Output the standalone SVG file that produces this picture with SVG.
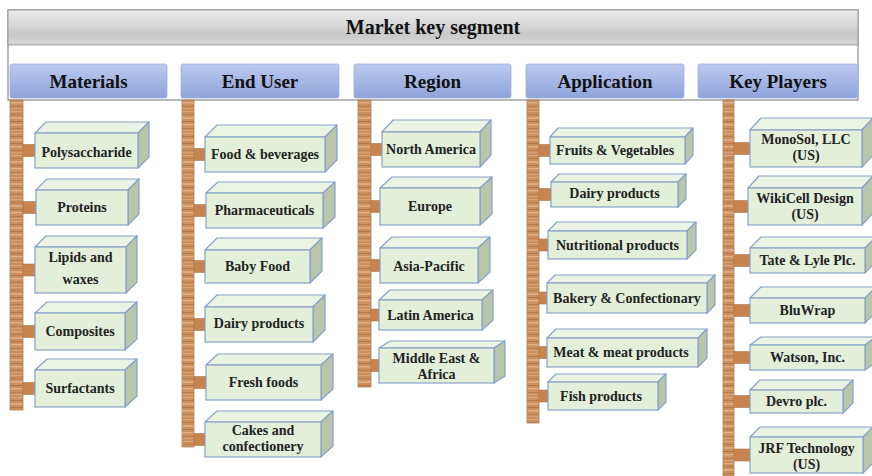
<svg xmlns="http://www.w3.org/2000/svg" width="872" height="476" viewBox="0 0 872 476">
  <defs>
    <linearGradient id="gTitle" x1="0" y1="0" x2="0" y2="1">
      <stop offset="0" stop-color="#ececec"/>
      <stop offset="0.7" stop-color="#c9c9c9"/>
      <stop offset="1" stop-color="#d6d6d6"/>
    </linearGradient>
    <linearGradient id="gHead" x1="0" y1="0" x2="0" y2="1">
      <stop offset="0" stop-color="#bccaf0"/>
      <stop offset="1" stop-color="#8ea3da"/>
    </linearGradient>
    <pattern id="wood" width="20" height="22" patternUnits="userSpaceOnUse">
      <rect width="20" height="22" fill="#cc8f5e"/>
      <rect y="1" width="20" height="1" fill="#dba67a"/>
      <rect y="4" width="20" height="1" fill="#b97b4c"/>
      <rect y="7" width="20" height="2" fill="#dcaa7e"/>
      <rect y="11" width="20" height="1" fill="#b57647"/>
      <rect y="14" width="20" height="1.5" fill="#e0b088"/>
      <rect y="18" width="20" height="1" fill="#bb7e4f"/>
      <rect y="20" width="20" height="1" fill="#d8a175"/>
    </pattern>
    <style>
      .title { font-family: "Liberation Serif", "Times New Roman", serif; font-weight: bold; font-size: 20px; fill: #111; text-anchor: middle; }
      .head { font-family: "Liberation Serif", "Times New Roman", serif; font-weight: bold; font-size: 19px; fill: #111; text-anchor: middle; }
      .lbl { font-family: "Liberation Serif", "Times New Roman", serif; font-weight: bold; font-size: 14px; fill: #222; text-anchor: middle; }
      .hbox { fill: url(#gHead); stroke: #9fb0dc; stroke-width: 0.8; }
      .pillar { fill: url(#wood); stroke: #b08058; stroke-width: 0.8; }
      .stub { fill: #c8834f; stroke: #a87850; stroke-width: 0.6; }
      .front { fill: #e3efd9; stroke: #86a2c8; stroke-width: 1.2; }
      .top { fill: #ebf3e4; stroke: #86a2c8; stroke-width: 1.2; stroke-linejoin: round; }
      .side { fill: #b9c6ab; stroke: #86a2c8; stroke-width: 1.2; stroke-linejoin: round; }
    </style>
  </defs>

  <rect width="872" height="476" fill="#ffffff"/>

  <!-- title frame and banner -->
  <g id="title">
    <rect x="8" y="10" width="850" height="90" fill="#ffffff" stroke="#8a8a8a" stroke-width="1.2"/>
    <rect x="8" y="10" width="850" height="35" fill="url(#gTitle)" stroke="#8a8a8a" stroke-width="0.8"/>
    <text class="title" x="433" y="34">Market key segment</text>
  </g>

  <!-- category headers -->
  <g id="head-materials"><rect class="hbox" x="10" y="64" width="157" height="34" rx="2"/><text class="head" x="88.5" y="88">Materials</text></g>
  <g id="head-enduser"><rect class="hbox" x="181" y="64" width="158" height="34" rx="2"/><text class="head" x="260" y="88">End User</text></g>
  <g id="head-region"><rect class="hbox" x="354" y="64" width="157" height="34" rx="2"/><text class="head" x="432.5" y="88">Region</text></g>
  <g id="head-application"><rect class="hbox" x="526" y="64" width="158" height="34" rx="2"/><text class="head" x="605" y="88">Application</text></g>
  <g id="head-keyplayers"><rect class="hbox" x="698" y="64" width="160" height="34" rx="2"/><text class="head" x="778" y="88">Key Players</text></g>

  <!-- connectors: wooden pillars and stubs -->
  <g id="connectors">
    <rect class="pillar" x="10" y="100" width="13" height="310"/>
    <rect class="pillar" x="182" y="100" width="12" height="347"/>
    <rect class="pillar" x="358" y="100" width="13" height="287"/>
    <rect class="pillar" x="527" y="100" width="12" height="323"/>
    <rect class="pillar" x="723" y="100" width="11" height="376"/>

    <rect class="stub" x="23" y="144.5" width="12" height="12"/>
    <rect class="stub" x="23" y="201.5" width="13" height="12"/>
    <rect class="stub" x="23" y="264" width="12" height="12"/>
    <rect class="stub" x="23" y="325.5" width="12" height="12"/>
    <rect class="stub" x="23" y="382.5" width="12" height="12"/>

    <rect class="stub" x="194" y="148.5" width="11" height="12"/>
    <rect class="stub" x="194" y="204.5" width="12" height="12"/>
    <rect class="stub" x="194" y="260.5" width="11" height="12"/>
    <rect class="stub" x="194" y="318.5" width="11" height="12"/>
    <rect class="stub" x="194" y="376.5" width="12" height="12"/>
    <rect class="stub" x="194" y="433.5" width="11" height="12"/>

    <rect class="stub" x="371" y="143.5" width="11" height="12"/>
    <rect class="stub" x="371" y="200.5" width="9" height="12"/>
    <rect class="stub" x="371" y="259.5" width="9" height="12"/>
    <rect class="stub" x="371" y="309" width="8" height="12"/>
    <rect class="stub" x="371" y="359.5" width="8" height="12"/>

    <rect class="stub" x="539" y="144.5" width="11" height="12"/>
    <rect class="stub" x="539" y="188.5" width="12" height="12"/>
    <rect class="stub" x="539" y="239" width="9" height="12"/>
    <rect class="stub" x="539" y="292" width="8" height="12"/>
    <rect class="stub" x="539" y="346.5" width="8" height="12"/>
    <rect class="stub" x="539" y="390" width="9" height="12"/>

    <rect class="stub" x="734" y="142.5" width="16" height="12"/>
    <rect class="stub" x="734" y="200.5" width="14" height="12"/>
    <rect class="stub" x="734" y="254.5" width="16" height="12"/>
    <rect class="stub" x="734" y="304.5" width="16" height="12"/>
    <rect class="stub" x="734" y="351.5" width="16" height="12"/>
    <rect class="stub" x="734" y="395.5" width="16" height="12"/>
    <rect class="stub" x="734" y="449" width="16" height="12"/>
  </g>

  <!-- Materials -->
  <g id="polysaccharide">
    <polygon class="top" points="35,133 46,122 149,122 138,133"/>
    <polygon class="side" points="138,133 149,122 149,157 138,168"/>
    <rect class="front" x="35" y="133" width="103" height="35"/>
    <text class="lbl" x="86.5" y="157">Polysaccharide</text>
  </g>
  <g id="proteins">
    <polygon class="top" points="36,190 47,179 139,179 128,190"/>
    <polygon class="side" points="128,190 139,179 139,214 128,225"/>
    <rect class="front" x="36" y="190" width="92" height="35"/>
    <text class="lbl" x="82" y="212">Proteins</text>
  </g>
  <g id="lipids">
    <polygon class="top" points="35,247 46,236 137,236 126,247"/>
    <polygon class="side" points="126,247 137,236 137,282 126,293"/>
    <rect class="front" x="35" y="247" width="91" height="46"/>
    <text class="lbl" x="80.5" y="262">Lipids and</text>
    <text class="lbl" x="80.5" y="284">waxes</text>
  </g>
  <g id="composites">
    <polygon class="top" points="35,313 47,302 137,302 125,313"/>
    <polygon class="side" points="125,313 137,302 137,339 125,350"/>
    <rect class="front" x="35" y="313" width="90" height="37"/>
    <text class="lbl" x="80" y="336">Composites</text>
  </g>
  <g id="surfactants">
    <polygon class="top" points="35,370 47,359 137,359 125,370"/>
    <polygon class="side" points="125,370 137,359 137,396 125,407"/>
    <rect class="front" x="35" y="370" width="90" height="37"/>
    <text class="lbl" x="80" y="393">Surfactants</text>
  </g>

  <!-- End User -->
  <g id="food-beverages">
    <polygon class="top" points="205,137 217,125 337,125 325,137"/>
    <polygon class="side" points="325,137 337,125 337,160 325,172"/>
    <rect class="front" x="205" y="137" width="120" height="35"/>
    <text class="lbl" x="265" y="159">Food &amp; beverages</text>
  </g>
  <g id="pharmaceuticals">
    <polygon class="top" points="206,193 218,182 335,182 323,193"/>
    <polygon class="side" points="323,193 335,182 335,217 323,228"/>
    <rect class="front" x="206" y="193" width="117" height="35"/>
    <text class="lbl" x="264.5" y="215">Pharmaceuticals</text>
  </g>
  <g id="baby-food">
    <polygon class="top" points="205,250 217,238 322,238 310,250"/>
    <polygon class="side" points="310,250 322,238 322,271 310,283"/>
    <rect class="front" x="205" y="250" width="105" height="33"/>
    <text class="lbl" x="257.5" y="271">Baby Food</text>
  </g>
  <g id="eu-dairy">
    <polygon class="top" points="205,307 217,295 325,295 313,307"/>
    <polygon class="side" points="313,307 325,295 325,330 313,342"/>
    <rect class="front" x="205" y="307" width="108" height="35"/>
    <text class="lbl" x="259" y="328">Dairy products</text>
  </g>
  <g id="fresh-foods">
    <polygon class="top" points="206,365 218,354 333,354 321,365"/>
    <polygon class="side" points="321,365 333,354 333,389 321,400"/>
    <rect class="front" x="206" y="365" width="115" height="35"/>
    <text class="lbl" x="263.5" y="387">Fresh foods</text>
  </g>
  <g id="cakes">
    <polygon class="top" points="205,422 217,411 333,411 321,422"/>
    <polygon class="side" points="321,422 333,411 333,446 321,457"/>
    <rect class="front" x="205" y="422" width="116" height="35"/>
    <text class="lbl" x="263" y="435">Cakes and</text>
    <text class="lbl" x="263" y="451">confectionery</text>
  </g>

  <!-- Region -->
  <g id="north-america">
    <polygon class="top" points="382,132 393,120 491,120 480,132"/>
    <polygon class="side" points="480,132 491,120 491,155 480,167"/>
    <rect class="front" x="382" y="132" width="98" height="35"/>
    <text class="lbl" x="431" y="154">North America</text>
  </g>
  <g id="europe">
    <polygon class="top" points="380,188 392,177 492,177 480,188"/>
    <polygon class="side" points="480,188 492,177 492,214 480,225"/>
    <rect class="front" x="380" y="188" width="100" height="37"/>
    <text class="lbl" x="430" y="211">Europe</text>
  </g>
  <g id="asia-pacific">
    <polygon class="top" points="380,248 392,237 490,237 478,248"/>
    <polygon class="side" points="478,248 490,237 490,272 478,283"/>
    <rect class="front" x="380" y="248" width="98" height="35"/>
    <text class="lbl" x="429" y="271">Asia-Pacific</text>
  </g>
  <g id="latin-america">
    <polygon class="top" points="379,300 390,290 493,290 482,300"/>
    <polygon class="side" points="482,300 493,290 493,320 482,330"/>
    <rect class="front" x="379" y="300" width="103" height="30"/>
    <text class="lbl" x="430.5" y="320">Latin America</text>
  </g>
  <g id="middle-east-africa">
    <polygon class="top" points="379,348 390,341 505,341 494,348"/>
    <polygon class="side" points="494,348 505,341 505,376 494,383"/>
    <rect class="front" x="379" y="348" width="115" height="35"/>
    <text class="lbl" x="436.5" y="363">Middle East &amp;</text>
    <text class="lbl" x="436.5" y="379">Africa</text>
  </g>

  <!-- Application -->
  <g id="fruits-vegetables">
    <polygon class="top" points="550,137 558,128 693,128 685,137"/>
    <polygon class="side" points="685,137 693,128 693,155 685,164"/>
    <rect class="front" x="550" y="137" width="135" height="27"/>
    <text class="lbl" x="615" y="155">Fruits &amp; Vegetables</text>
  </g>
  <g id="app-dairy">
    <polygon class="top" points="551,182 559,174 686,174 678,182"/>
    <polygon class="side" points="678,182 686,174 686,199 678,207"/>
    <rect class="front" x="551" y="182" width="127" height="25"/>
    <text class="lbl" x="614.5" y="198">Dairy products</text>
  </g>
  <g id="nutritional">
    <polygon class="top" points="548,231 557,222 696,222 687,231"/>
    <polygon class="side" points="687,231 696,222 696,250 687,259"/>
    <rect class="front" x="548" y="231" width="139" height="28"/>
    <text class="lbl" x="617.5" y="250">Nutritional products</text>
  </g>
  <g id="bakery">
    <polygon class="top" points="547,283 555,275 715,275 707,283"/>
    <polygon class="side" points="707,283 715,275 715,305 707,313"/>
    <rect class="front" x="547" y="283" width="160" height="30"/>
    <text class="lbl" x="627" y="303">Bakery &amp; Confectionary</text>
  </g>
  <g id="meat">
    <polygon class="top" points="547,338 556,329 707,329 698,338"/>
    <polygon class="side" points="698,338 707,329 707,358 698,367"/>
    <rect class="front" x="547" y="338" width="151" height="29"/>
    <text class="lbl" x="621" y="357">Meat &amp; meat products</text>
  </g>
  <g id="fish">
    <polygon class="top" points="548,382 556,374 666,374 658,382"/>
    <polygon class="side" points="658,382 666,374 666,402 658,410"/>
    <rect class="front" x="548" y="382" width="110" height="28"/>
    <text class="lbl" x="601" y="401">Fish products</text>
  </g>

  <!-- Key Players -->
  <g id="monosol">
    <polygon class="top" points="750,130 761,118 873,118 862,130"/>
    <polygon class="side" points="862,130 873,118 873,155 862,167"/>
    <rect class="front" x="750" y="130" width="112" height="37"/>
    <text class="lbl" x="806" y="144">MonoSol, LLC</text>
    <text class="lbl" x="806" y="160">(US)</text>
  </g>
  <g id="wikicell">
    <polygon class="top" points="748,188 759,176 873,176 862,188"/>
    <polygon class="side" points="862,188 873,176 873,213 862,225"/>
    <rect class="front" x="748" y="188" width="114" height="37"/>
    <text class="lbl" x="805" y="203">WikiCell Design</text>
    <text class="lbl" x="805" y="219">(US)</text>
  </g>
  <g id="tate-lyle">
    <polygon class="top" points="750,248 761,237 876,237 865,248"/>
    <polygon class="side" points="865,248 876,237 876,262 865,273"/>
    <rect class="front" x="750" y="248" width="115" height="25"/>
    <text class="lbl" x="807.5" y="265">Tate &amp; Lyle Plc.</text>
  </g>
  <g id="bluwrap">
    <polygon class="top" points="750,298 761,287 876,287 865,298"/>
    <polygon class="side" points="865,298 876,287 876,312 865,323"/>
    <rect class="front" x="750" y="298" width="115" height="25"/>
    <text class="lbl" x="807.5" y="315">BluWrap</text>
  </g>
  <g id="watson">
    <polygon class="top" points="750,345 761,337 876,337 865,345"/>
    <polygon class="side" points="865,345 876,337 876,362 865,370"/>
    <rect class="front" x="750" y="345" width="115" height="25"/>
    <text class="lbl" x="807.5" y="362">Watson, Inc.</text>
  </g>
  <g id="devro">
    <polygon class="top" points="750,390 760,380 853,380 843,390"/>
    <polygon class="side" points="843,390 853,380 853,403 843,413"/>
    <rect class="front" x="750" y="390" width="93" height="23"/>
    <text class="lbl" x="796.5" y="406">Devro plc.</text>
  </g>
  <g id="jrf">
    <polygon class="top" points="750,437 760,427 873,427 863,437"/>
    <polygon class="side" points="863,437 873,427 873,463 863,473"/>
    <rect class="front" x="750" y="437" width="113" height="36"/>
    <text class="lbl" x="806.5" y="453">JRF Technology</text>
    <text class="lbl" x="806.5" y="469">(US)</text>
  </g>
</svg>
